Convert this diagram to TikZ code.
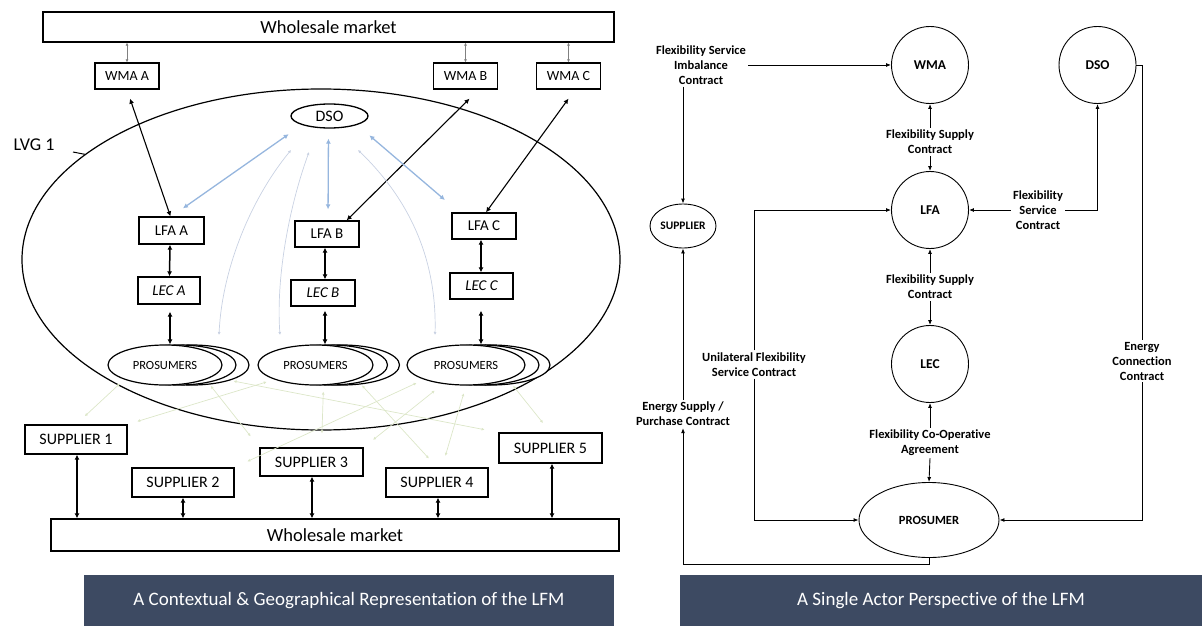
\documentclass[tikz,border=0pt]{standalone}
\usepackage{fontspec}
\setmainfont{Carlito}[Ligatures={NoCommon}]
\usetikzlibrary{shapes.geometric,arrows.meta,calc}
\definecolor{navy}{RGB}{61,74,98}
\definecolor{lblue}{RGB}{150,182,222}
\definecolor{fblue}{RGB}{200,209,226}
\definecolor{fgreen}{RGB}{220,230,200}
\begin{document}
\begin{tikzpicture}[x=1pt,y=-1pt,
  box/.style={draw,line width=1.3pt,inner sep=0pt,font=\fontsize{14}{16}\selectfont},
  supbox/.style={box,minimum width=102,minimum height=29,font=\fontsize{16}{18}\selectfont},
  smallbox/.style={box,minimum width=64,minimum height=26},
  midbox/.style={smallbox,font=\fontsize{15}{17}\selectfont},
  pros/.style={draw,line width=1.2pt,ellipse,fill=white,inner sep=0pt,minimum width=114,minimum height=40,font=\fontsize{12.5}{14}\selectfont},
  barr/.style={line width=1.3pt,{Latex[length=5pt,width=5pt]}-{Latex[length=5pt,width=5pt]}},
  garr/.style={gray,line width=0.6pt,{Latex[length=3pt,width=3pt]}-{Latex[length=3pt,width=3pt]}},
  bluearr/.style={lblue,line width=1.3pt,{Latex[length=5pt,width=5pt]}-{Latex[length=5pt,width=5pt]}},
  faintarr/.style={fblue,line width=0.7pt,{Latex[length=3pt,width=3pt]}-{Latex[length=3pt,width=3pt]}},
  greenarr/.style={fgreen,line width=0.7pt,{Latex[length=3pt,width=3pt]}-{Latex[length=3pt,width=3pt]}},
  banner/.style={fill=navy,text=white,inner sep=0pt,minimum height=51,font=\fontsize{19}{21}\selectfont},
  actor/.style={draw,circle,line width=0.9pt,minimum size=77,inner sep=0pt,font=\bfseries\fontsize{13.5}{15}\selectfont},
  lbl/.style={align=center,inner sep=2pt,font=\bfseries\fontsize{12.5}{15}\selectfont},
  rarr/.style={line width=0.9pt,-{Latex[length=5pt,width=4pt]}},
  rline/.style={line width=0.9pt}
]
\useasboundingbox (0,0) rectangle (1202,626);
% ---------------- left panel ----------------
\node[draw,ellipse,line width=1.2pt,minimum width=598,minimum height=341,inner sep=0pt] (lvg) at (321,259.5) {};
\node[font=\fontsize{18}{20}\selectfont] (lvgl) at (34,145) {LVG 1};
\coordinate (lvgt) at (73,152);
\draw[line width=1pt] (lvgt) -- (lvg.156);

\node[box,minimum width=571,minimum height=30,font=\fontsize{18.5}{20}\selectfont] (wmT) at (328.5,27) {Wholesale market};
\node[smallbox] (wmaA) at (127,76) {WMA A};
\node[smallbox] (wmaB) at (465.5,76) {WMA B};
\node[smallbox] (wmaC) at (568.5,76) {WMA C};
\draw[garr] (wmaA.north |- wmT.south) -- (wmaA.north);
\draw[garr] (wmaB.north |- wmT.south) -- (wmaB.north);
\draw[garr] (wmaC.north |- wmT.south) -- (wmaC.north);

\node[draw,ellipse,line width=1.3pt,minimum width=77,minimum height=24,inner sep=0pt,font=\fontsize{16}{18}\selectfont] (dso) at (329.5,116) {DSO};

\node[midbox,minimum width=65,minimum height=27] (lfaA) at (171.5,230.5) {LFA A};
\node[midbox] (lfaB) at (327,234) {LFA B};
\node[midbox] (lfaC) at (484,226) {LFA C};
\node[midbox,minimum width=62,minimum height=27] (lecA) at (169,290.5) {\itshape LEC A};
\node[midbox] (lecB) at (323,293) {\itshape LEC B};
\node[midbox,minimum width=63] (lecC) at (481.5,286) {\itshape LEC C};

% prosumer stacks
\node[pros] (pA3) at (192,365) {};
\node[pros] (pA2) at (179,365) {};
\node[pros] (pA) at (165,365) {PROSUMERS};
\node[pros,minimum width=115] (pB3) at (342,365) {};
\node[pros,minimum width=115] (pB2) at (330,365) {};
\node[pros,minimum width=115] (pB) at (315.5,365) {PROSUMERS};
\node[pros,minimum width=118] (pC3) at (491,365) {};
\node[pros,minimum width=118] (pC2) at (480,365) {};
\node[pros,minimum width=118] (pC) at (466,365) {PROSUMERS};

% black arrows
\draw[barr,line width=1.1pt] ([xshift=3pt,yshift=-9pt]wmaA.south) -- ([xshift=-1pt]lfaA.north);
\draw[barr,line width=1.1pt] ([xshift=4pt,yshift=-9pt]wmaB.south) -- ([xshift=-13pt]lfaB.north east);
\draw[barr,line width=1.1pt] ([yshift=-9pt]wmaC.south) -- ([xshift=2pt]lfaC.north);
\draw[barr,line width=1.5pt] ([xshift=-1.5pt]lfaA.south) -- ([xshift=0.5pt]lecA.north);
\draw[barr,line width=1.5pt] ([xshift=-2pt]lfaB.south) -- ([xshift=2pt]lecB.north);
\draw[barr,line width=1.5pt] ([xshift=-3pt]lfaC.south) -- ([xshift=-0.5pt]lecC.north);
\draw[barr,line width=1.5pt] ([xshift=1pt,yshift=-7pt]lecA.south) -- ([xshift=5pt]pA.north);
\draw[barr,line width=1.5pt] ([xshift=2pt,yshift=-4pt]lecB.south) -- ([xshift=9.5pt]pB.north);
\draw[barr,line width=1.5pt] ([xshift=-0.5pt,yshift=-11pt]lecC.south) -- ([xshift=15pt]pC.north);

% blue arrows DSO - LFA
\draw[bluearr,shorten <=16pt,shorten >=14pt] (dso.south west) -- (lfaA.north);
\draw[bluearr,shorten <=10pt,shorten >=11pt] ([xshift=-1pt]dso.south) -- ([xshift=1pt]lfaB.north);
\draw[bluearr,shorten <=16pt,shorten >=19pt] (dso.south east) -- ([xshift=8pt]lfaC.north west);

% faint curves
\coordinate (fc1s) at (291,150); \coordinate (fc1e) at (219,335);
\coordinate (fc2s) at (309,152); \coordinate (fc2e) at (280,335);
\coordinate (fc3s) at (358,150); \coordinate (fc3e) at (435,335);
\draw[faintarr] (fc1s) .. controls (250,200) and (222,270) .. (fc1e);
\draw[faintarr] (fc2s) .. controls (288,210) and (276,280) .. (fc2e);
\draw[faintarr] (fc3s) .. controls (410,200) and (437,260) .. (fc3e);

% suppliers
\node[supbox] (s1) at (76,439.5) {SUPPLIER 1};
\node[supbox] (s2) at (183,482.5) {SUPPLIER 2};
\node[supbox,minimum width=103,minimum height=28] (s3) at (311.5,462) {SUPPLIER 3};
\node[supbox] (s4) at (437,482.5) {SUPPLIER 4};
\node[supbox,minimum width=103,minimum height=30] (s5) at (550.5,448) {SUPPLIER 5};
\node[box,minimum width=568,minimum height=32,font=\fontsize{18.5}{20}\selectfont] (wmB) at (335,535) {Wholesale market};
\draw[barr,line width=1.1pt] ([xshift=1pt]s1.south) -- ([xshift=1pt]s1.south |- wmB.north);
\draw[barr,line width=1.1pt] (s2.south) -- (s2.south |- wmB.north);
\draw[barr,line width=1.1pt] ([xshift=0.5pt]s3.south) -- ([xshift=0.5pt]s3.south |- wmB.north);
\draw[barr,line width=1.1pt] ([xshift=1pt]s4.south) -- ([xshift=1pt]s4.south |- wmB.north);
\draw[barr,line width=1.1pt] ([xshift=1.5pt]s5.south) -- ([xshift=1.5pt]s5.south |- wmB.north);

% faint green mesh prosumers - suppliers
\draw[greenarr,shorten <=6pt,shorten >=12pt] (pA.south west) -- (s1.north);
\draw[greenarr,shorten <=8pt,shorten >=14pt] (pA.south east) -- (s3.north west);
\draw[greenarr,shorten <=8pt,shorten >=14pt] ([xshift=20pt]pA.south east) -- (s5.north west);
\draw[greenarr,shorten <=8pt,shorten >=10pt] (pB.south west) -- (s1.north east);
\draw[greenarr,shorten <=6pt,shorten >=14pt] ([xshift=8pt]pB.south) -- ([xshift=10pt]s3.north);
\draw[greenarr,shorten <=8pt,shorten >=12pt] (pB.south east) -- (s4.north);
\draw[greenarr,shorten <=8pt,shorten >=14pt] (pC.south west) -- (s2.north east);
\draw[greenarr,shorten <=8pt,shorten >=12pt] (pC.south) -- ([xshift=5pt]s4.north);
\draw[greenarr,shorten <=8pt,shorten >=12pt] (pC.south east) -- (s5.north);
\draw[greenarr,shorten <=8pt,shorten >=12pt] ([xshift=-25pt]pC.south) -- (s3.north east);

\node[banner,minimum width=530] (banL) at (349,600.5) {A Contextual \& Geographical Representation of the LFM};

% ---------------- right panel ----------------
\node[actor] (wma) at (930,65) {WMA};
\node[actor] (dsoR) at (1097.5,65) {DSO};
\node[actor] (lfa) at (930,210) {LFA};
\node[actor] (lec) at (930,364) {LEC};
\node[draw,ellipse,line width=0.9pt,minimum width=140,minimum height=75,inner sep=0pt,font=\bfseries\fontsize{12.5}{14}\selectfont] (prosR) at (929,520) {PROSUMER};
\node[draw,ellipse,line width=0.9pt,minimum width=66,minimum height=44,inner sep=0pt,font=\bfseries\fontsize{11.5}{13}\selectfont] (sup) at (683,226) {SUPPLIER};

\node[lbl] (imb) at (701,65) {Flexibility Service\\Imbalance\\Contract};
\node[lbl] (fsc1) at (930,142) {Flexibility Supply\\Contract};
\node[lbl] (fsc2) at (930,287) {Flexibility Supply\\Contract};
\node[lbl] (fcoa) at (930,443) {Flexibility Co-Operative\\Agreement};
\node[lbl] (fsc3) at (1038,210) {Flexibility\\Service\\Contract};
\node[lbl] (uni) at (754,364.5) {Unilateral Flexibility\\Service Contract};
\node[lbl] (esp) at (683,414) {Energy Supply /\\Purchase Contract};
\node[lbl] (ecc) at (1142,361) {Energy\\Connection\\Contract};

\draw[rarr] (imb.east) -- (wma.west);
\draw[rarr] (sup.north |- imb.south) -- (sup.north);
\draw[rarr] (fsc1.north) -- (wma.south);
\draw[rarr] (fsc1.south) -- (lfa.north);
\draw[rarr] (fsc2.north) -- (lfa.south);
\draw[rarr] (fsc2.south) -- (lec.north);
\draw[rarr] (fcoa.north) -- (lec.south);
\draw[rarr] (fcoa.south) -- (prosR.north);
\draw[rarr] (fsc3.east) -| (dsoR.south);
\draw[rarr] (fsc3.west) -- (lfa.east);
\draw[rarr] (uni.north) |- (lfa.west);
\draw[rarr] (uni.south) |- (prosR.west);
\coordinate (botY) at (683,564);
\draw[rline] (prosR.south) |- (botY);
\draw[rarr] (botY) -- (esp.south);
\draw[rarr] (esp.north) -- (sup.south);
\draw[rline] (dsoR.east) -- (ecc.north |- dsoR.east) -- (ecc.north);
\draw[rarr] (ecc.south) |- (prosR.east);

\node[banner,minimum width=522] (banR) at (941,600.5) {A Single Actor Perspective of the LFM};
\end{tikzpicture}
\end{document}
